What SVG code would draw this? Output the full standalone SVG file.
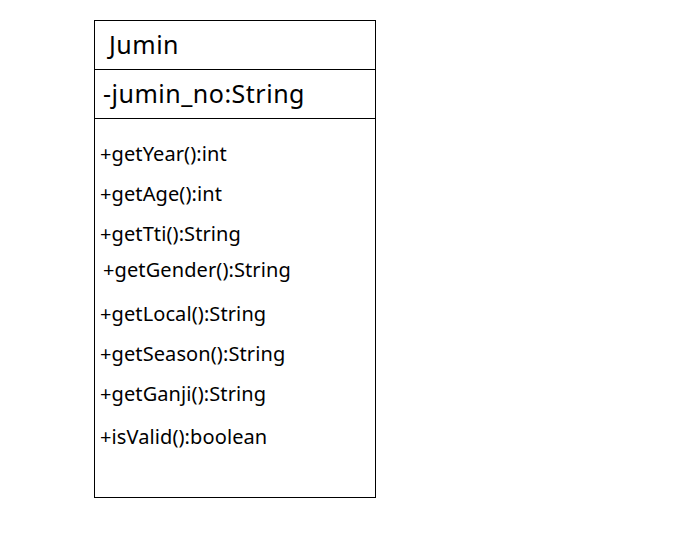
<svg xmlns="http://www.w3.org/2000/svg" width="688" height="549" viewBox="0 0 688 549">
<style>
.t{font-family:"Noto Sans","Open Sans",sans-serif;fill:#000}
.big{font-size:25px;letter-spacing:0.5px}
.m{font-size:20px;letter-spacing:0.1px}
.ln{stroke:#000;stroke-width:1;fill:none}
</style>
<rect width="688" height="549" fill="#fff"/>
<g id="class-Jumin">
<rect class="ln" x="94.5" y="20.5" width="281" height="477"/>
<line class="ln" x1="94.5" y1="69.5" x2="376" y2="69.5"/>
<line class="ln" x1="94.5" y1="118.5" x2="376" y2="118.5"/>
<text class="t big" x="109" y="54">Jumin</text>
<text class="t big" x="103" y="103">-jumin_no:String</text>
<text class="t m" x="100" y="161">+getYear():int</text>
<text class="t m" x="100" y="201">+getAge():int</text>
<text class="t m" x="100" y="241">+getTti():String</text>
<text class="t m" x="103" y="277">+getGender():String</text>
<text class="t m" x="100" y="321">+getLocal():String</text>
<text class="t m" x="100" y="361">+getSeason():String</text>
<text class="t m" x="100" y="401">+getGanji():String</text>
<text class="t m" x="100" y="444">+isValid():boolean</text>
</g>
<g id="connectors"></g>
</svg>
